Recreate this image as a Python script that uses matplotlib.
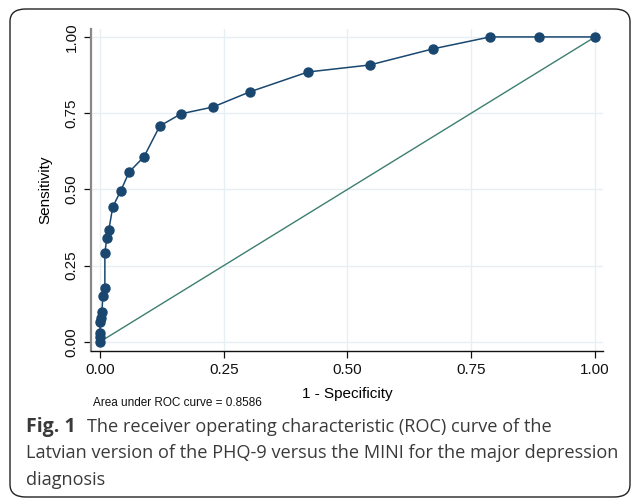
import matplotlib
matplotlib.use("Agg")
import matplotlib.pyplot as plt
from matplotlib.patches import FancyBboxPatch

# ROC points (1 - specificity, sensitivity)
fpr = [0.0, 0.0, 0.0, 0.0, 0.002, 0.004, 0.006, 0.010, 0.010, 0.014, 0.018,
       0.026, 0.042, 0.059, 0.089, 0.121, 0.164, 0.228, 0.303, 0.420, 0.545,
       0.673, 0.788, 0.887, 1.0]
tpr = [0.0, 0.016, 0.030, 0.066, 0.079, 0.098, 0.151, 0.177, 0.292, 0.341, 0.367,
       0.443, 0.495, 0.557, 0.607, 0.708, 0.748, 0.770, 0.820, 0.885, 0.908,
       0.961, 1.0, 1.0, 1.0]
ref_line = [0, 1]
ticks = [0.0, 0.25, 0.5, 0.75, 1.0]
tick_labels = ["0.00", "0.25", "0.50", "0.75", "1.00"]
auc_note = "Area under ROC curve = 0.8586"

W, H = 632, 500

fig = plt.figure(figsize=(W / 100, H / 100), dpi=100)
fig.patch.set_facecolor("white")

# rounded frame around the figure
box = FancyBboxPatch((10 / W, 3 / H), 620 / W, 488 / H,
                     boxstyle="round,pad=0,rounding_size=0.025",
                     transform=fig.transFigure, fill=False,
                     edgecolor="#222222", linewidth=1.0, clip_on=False)
fig.patches.append(box)

ax = fig.add_axes([91 / W, (H - 351) / H, (603 - 91) / W, (351 - 29) / H])
ax.set_xlim(-0.018, 1.016)
ax.set_ylim(-0.03, 1.026)

ax.plot(ref_line, ref_line, color="#3c7f70", linewidth=1.0, zorder=2)
ax.plot(fpr, tpr, color="#1a476f", linewidth=1.1, marker="o",
        markersize=6.5, markerfacecolor="#1a476f", markeredgecolor="#1a476f",
        zorder=3)

ax.set_xticks(ticks)
ax.set_xticklabels(tick_labels)
ax.set_yticks(ticks)
ax.set_yticklabels(tick_labels, rotation=90, va="center")
ax.grid(True, color="#e8eff3", linewidth=1.0)
ax.set_axisbelow(True)

for s in ["top", "right"]:
    ax.spines[s].set_visible(False)
ax.spines["left"].set_color("#888888")
ax.spines["left"].set_linewidth(1.6)
ax.spines["bottom"].set_color("#111111")
ax.spines["bottom"].set_linewidth(1.0)
ax.tick_params(direction="out", length=5, width=0.9, labelsize=11,
               pad=4, colors="#111111")

font = ["Liberation Sans", "DejaVu Sans"]
for lab in ax.get_xticklabels() + ax.get_yticklabels():
    lab.set_family(font)

ax.set_ylabel("Sensitivity", fontsize=11, family=font, labelpad=9)
ax.set_xlabel("1 - Specificity", fontsize=11, family=font, labelpad=7)

fig.text(93 / W, 1 - 403 / H, auc_note, fontsize=8.5, family=font,
         va="center", ha="left", color="#111111")

# caption
cap = "#3a3a3a"
cfont = ["Open Sans", "DejaVu Sans"]
fig.text(26 / W, 1 - 427 / H, "Fig. 1", fontsize=14, weight="bold",
         family=cfont, color=cap, va="center", ha="left")
fig.text(87 / W, 1 - 427 / H,
         "The receiver operating characteristic (ROC) curve of the",
         fontsize=13.1, family=cfont, color=cap, va="center", ha="left")
fig.text(26 / W, 1 - 453 / H,
         "Latvian version of the PHQ-9 versus the MINI for the major depression",
         fontsize=13.1, family=cfont, color=cap, va="center", ha="left")
fig.text(26 / W, 1 - 480 / H, "diagnosis",
         fontsize=13.1, family=cfont, color=cap, va="center", ha="left")

fig.savefig("out.png", dpi=100)
